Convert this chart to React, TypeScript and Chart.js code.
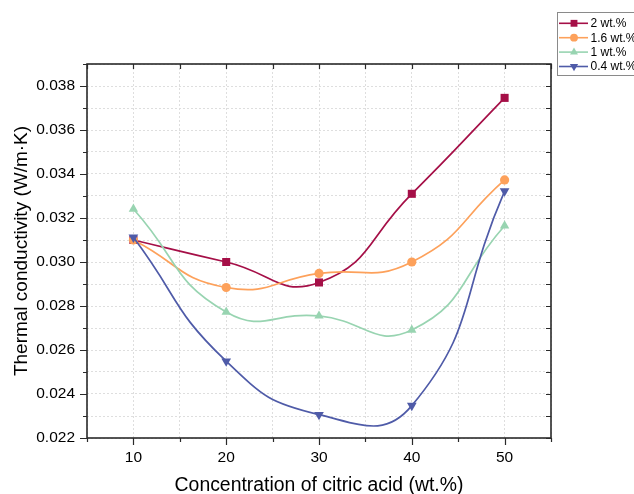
import React, { useEffect, useRef } from 'react';
import { Chart, registerables } from 'chart.js';

Chart.register(...registerables);

const FONT = '"Liberation Sans", Arial, Helvetica, sans-serif';

// ---- data ----
const concentrations = [10, 20, 30, 40, 50];
const k2wt = [0.031, 0.03, 0.02907, 0.0331, 0.03746];
const k16wt = [0.031, 0.02884, 0.02948, 0.03, 0.03373];
const k1wt = [0.03241, 0.02773, 0.02755, 0.02691, 0.03165];
const k04wt = [0.03112, 0.02549, 0.02306, 0.02347, 0.03322];
const seriesNames = ['2 wt.%', '1.6 wt.%', '1 wt.%', '0.4 wt.%'];
const seriesColors = ['#A50F47', '#FDA15B', '#98D4B1', '#4F5BA8'];
const seriesMarkers = ['rect', 'circle', 'triangle', 'triangle'];
const seriesRotations = [0, 0, 0, 180];
const seriesRadii = [5.7, 4.6, 5.4, 5.6];
const xTitle = 'Concentration of citric acid (wt.%)';
const yTitle = 'Thermal conductivity (W/m·K)';
const xMin = 5;
const xMax = 55;
const xStep = 5;
const yMin = 0.022;
const yMax = 0.039;
const yStep = 0.001;

function drawMarker(ctx: CanvasRenderingContext2D, style: string, rotation: number, x: number, y: number, r: number) {
  ctx.beginPath();
  if (style === 'rect') {
    const s = r * Math.SQRT1_2;
    ctx.rect(x - s, y - s, 2 * s, 2 * s);
  } else if (style === 'circle') {
    ctx.arc(x, y, r, 0, Math.PI * 2);
  } else {
    const rot = (rotation * Math.PI) / 180;
    for (let i = 0; i < 3; i++) {
      const a = rot - Math.PI / 2 + (i * 2 * Math.PI) / 3;
      const px = x + Math.cos(a) * r;
      const py = y + Math.sin(a) * r;
      if (i === 0) ctx.moveTo(px, py);
      else ctx.lineTo(px, py);
    }
    ctx.closePath();
  }
  ctx.fill();
}

const framePlugin = {
  id: 'frameTicks',
  afterDraw(chart: any) {
    const { ctx, chartArea: a, scales } = chart;
    const xs = scales.x;
    const ys = scales.y;
    ctx.save();
    ctx.strokeStyle = '#2a2a2a';
    ctx.lineWidth = 1.2;
    ctx.beginPath();
    xs.ticks.forEach((t: any) => {
      const px = Math.round(xs.getPixelForValue(t.value)) + 0.5;
      const major = Math.round(t.value) % 10 === 0;
      ctx.moveTo(px, a.bottom);
      ctx.lineTo(px, a.bottom + (major ? 7 : 4));
      ctx.moveTo(px, a.top);
      ctx.lineTo(px, a.top + 5);
    });
    ys.ticks.forEach((t: any) => {
      const py = Math.round(ys.getPixelForValue(t.value)) + 0.5;
      const major = Math.round(t.value * 1000) % 2 === 0;
      ctx.moveTo(a.left, py);
      ctx.lineTo(a.left - (major ? 7 : 4), py);
      ctx.moveTo(a.right, py);
      ctx.lineTo(a.right - 5, py);
    });
    ctx.stroke();
    ctx.lineWidth = 1.6;
    ctx.strokeRect(a.left, a.top, a.right - a.left, a.bottom - a.top);
    ctx.restore();
  },
};

const LEG_LEFT = 557.5;
const LEG_TOP = 12.5;
const LEG_W = 90;
const LEG_H = 63;
const LEG_ROW0 = 23.3;
const LEG_ROW_GAP = 14.4;

const legendPlugin = {
  id: 'boxLegend',
  afterDraw(chart: any) {
    const { ctx } = chart;
    ctx.save();
    ctx.fillStyle = '#ffffff';
    ctx.fillRect(LEG_LEFT, LEG_TOP, LEG_W, LEG_H);
    ctx.strokeStyle = '#8a8a8a';
    ctx.lineWidth = 1;
    ctx.strokeRect(LEG_LEFT, LEG_TOP, LEG_W, LEG_H);
    chart.data.datasets.forEach((ds: any, i: number) => {
      const cy = LEG_ROW0 + i * LEG_ROW_GAP;
      ctx.strokeStyle = ds.borderColor;
      ctx.lineWidth = 1.6;
      ctx.beginPath();
      ctx.moveTo(LEG_LEFT + 1.5, cy);
      ctx.lineTo(LEG_LEFT + 30.5, cy);
      ctx.stroke();
      ctx.fillStyle = ds.borderColor;
      drawMarker(ctx, ds.pointStyle, ds.pointRotation, LEG_LEFT + 16.5, cy, ds.pointRadius * 0.85);
      ctx.fillStyle = '#000';
      ctx.font = `12px ${FONT}`;
      ctx.textBaseline = 'middle';
      ctx.textAlign = 'left';
      ctx.fillText(ds.label, LEG_LEFT + 33, cy + 0.5);
    });
    ctx.restore();
  },
};

export default function App() {
  const ref = useRef<HTMLCanvasElement | null>(null);

  useEffect(() => {
    if (!ref.current) return;
    const all = [k2wt, k16wt, k1wt, k04wt];
    const datasets = all.map((vals, i) => ({
      label: seriesNames[i],
      data: concentrations.map((c, j) => ({ x: c, y: vals[j] })),
      borderColor: seriesColors[i],
      backgroundColor: seriesColors[i],
      borderWidth: 1.7,
      tension: 0.5,
      pointStyle: seriesMarkers[i],
      pointRotation: seriesRotations[i],
      pointRadius: seriesRadii[i],
      pointBorderWidth: 0,
      pointHoverRadius: seriesRadii[i],
      order: 4 - i,
    }));

    const tickFont = { family: FONT, size: 15.5 };
    const chart = new Chart(ref.current, {
      type: 'line',
      data: { datasets } as any,
      options: {
        animation: false,
        responsive: false,
        layout: { padding: { top: 64, right: 83, left: 0, bottom: 0 } },
        plugins: {
          legend: { display: false },
          tooltip: { enabled: false },
        },
        scales: {
          x: {
            type: 'linear',
            min: xMin,
            max: xMax,
            ticks: {
              stepSize: xStep,
              autoSkip: false,
              maxRotation: 0,
              padding: 10,
              color: '#000',
              font: tickFont,
              callback: (v: any) => (Math.round(v) % 10 === 0 ? String(v) : ''),
            },
            grid: { color: '#dedede', lineWidth: 1, drawTicks: false },
            border: { display: false, dash: [2, 2] },
            title: {
              display: true,
              text: xTitle,
              color: '#000',
              font: { family: FONT, size: 19.4, lineHeight: 0.9 },
              padding: { top: 0, bottom: 0 },
            },
            afterFit: (s: any) => {
              s.height = 56;
            },
          },
          y: {
            type: 'linear',
            min: yMin,
            max: yMax,
            ticks: {
              stepSize: yStep,
              autoSkip: false,
              padding: 12,
              color: '#000',
              font: tickFont,
              callback: (v: any) => (Math.round(v * 1000) % 2 === 0 ? Number(v).toFixed(3) : ''),
            },
            grid: { color: '#dedede', lineWidth: 1, drawTicks: false },
            border: { display: false, dash: [2, 2] },
            title: {
              display: true,
              text: yTitle,
              color: '#000',
              font: { family: FONT, size: 19, lineHeight: 1 },
              padding: { top: 12.5, bottom: 0 },
            },
            afterFit: (s: any) => {
              s.width = 87;
            },
          },
        },
      } as any,
      plugins: [framePlugin, legendPlugin],
    });
    return () => chart.destroy();
  }, []);

  return (
    <div style={{ position: 'fixed', left: 0, top: 0, width: 634, height: 494, background: '#fff' }}>
      <canvas ref={ref} width={634} height={494} style={{ display: 'block', width: 634, height: 494 }} />
    </div>
  );
}
